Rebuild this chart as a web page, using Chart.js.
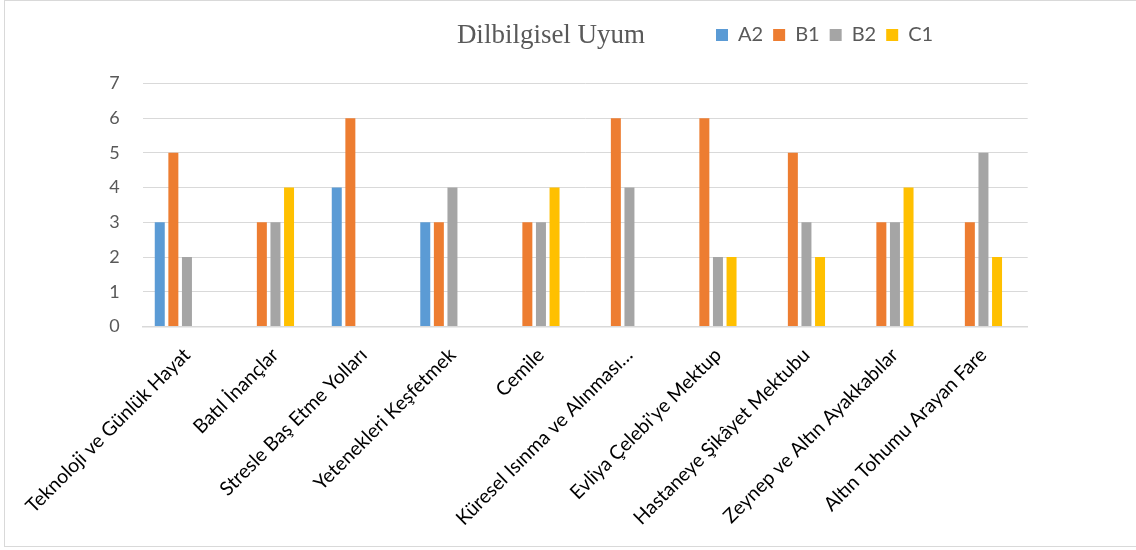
<!DOCTYPE html>
<html><head><meta charset="utf-8">
<script src="https://cdn.jsdelivr.net/npm/chart.js@4/dist/chart.umd.min.js"></script>
<style>
html,body{margin:0;padding:0;background:#fff;}
#wrap{position:relative;width:1136px;height:550px;overflow:hidden;}
#frame{position:absolute;left:4px;top:0;width:1150px;height:547px;border:1px solid #d9d9d9;box-sizing:border-box;pointer-events:none;}
canvas{position:absolute;left:0;top:0;}
</style></head><body>
<div id="wrap"><canvas id="c" width="1136" height="550"></canvas><div id="frame"></div></div>
<script>
const titleText = 'Dilbilgisel Uyum';
const categories = [
  'Teknoloji ve Günlük Hayat',
  'Batıl İnançlar',
  'Stresle Baş Etme Yolları',
  'Yetenekleri Keşfetmek',
  'Cemile',
  'Küresel Isınma ve Alınması…',
  "Evliya Çelebi'ye Mektup",
  'Hastaneye Şikâyet Mektubu',
  'Zeynep ve Altın Ayakkabılar',
  'Altın Tohumu Arayan Fare'
];
const seriesNames = ['A2', 'B1', 'B2', 'C1'];
const a2 = [3, 0, 4, 3, 0, 0, 0, 0, 0, 0];
const b1 = [5, 3, 6, 3, 3, 6, 6, 5, 3, 3];
const b2 = [2, 3, 0, 4, 3, 4, 2, 3, 3, 5];
const c1 = [0, 4, 0, 0, 4, 0, 2, 2, 4, 2];
const emptySlot = [null, null, null, null, null, null, null, null, null, null];
const yTicks = [0, 1, 2, 3, 4, 5, 6, 7];
const colors = ['#5B9BD5', '#ED7D31', '#A5A5A5', '#FFC000'];

const FONT = 'Lato, "Open Sans", sans-serif';
const TITLE_CX = 551;
const TITLE_TOP = 8.3;
const LEGEND_LEFT = 706;
const LEGEND_TOP = 15;

const placeHeader = {
  id: 'placeHeader',
  afterLayout(chart) {
    const t = chart.titleBlock;
    if (t) {
      const h = t.bottom - t.top, w = t.right - t.left;
      t.top = TITLE_TOP; t.bottom = TITLE_TOP + h;
      t.left = TITLE_CX - w / 2; t.right = t.left + w;
    }
    const l = chart.legend;
    if (l) {
      const h = l.bottom - l.top;
      l.top = LEGEND_TOP; l.bottom = LEGEND_TOP + h;
      l.left = LEGEND_LEFT; l.right = LEGEND_LEFT + 420; l.width = 420;
    }
  }
};

const seriesData = [a2, b1, b2, c1];
const datasets = seriesNames.map((n, i) => ({
  label: n, data: seriesData[i], backgroundColor: colors[i], borderWidth: 0
}));
datasets.push({ label: '', data: emptySlot, backgroundColor: 'rgba(0,0,0,0)', borderWidth: 0 });

new Chart(document.getElementById('c'), {
  type: 'bar',
  data: { labels: categories, datasets },
  plugins: [placeHeader],
  options: {
    responsive: false,
    animation: false,
    devicePixelRatio: 1,
    layout: { padding: { left: 0, right: 108.3, top: 0, bottom: 0 } },
    datasets: { bar: { categoryPercentage: 0.768, barPercentage: 0.735 } },
    plugins: {
      title: {
        display: true, text: titleText, color: '#595959',
        font: { family: '"Liberation Serif", "Times New Roman", serif', size: 27, weight: 'normal' },
        padding: { top: 11, bottom: 0 }
      },
      legend: {
        display: true, position: 'top', align: 'start',
        labels: {
          boxWidth: 12, boxHeight: 12, padding: 10, color: '#595959',
          font: { family: FONT, size: 20 },
          filter: (item) => item.text !== ''
        }
      },
      tooltip: { enabled: false }
    },
    scales: {
      x: {
        grid: { display: false, drawTicks: false },
        border: { display: true, color: '#d9d9d9', width: 1.5 },
        ticks: {
          autoSkip: false, minRotation: 45, maxRotation: 45, padding: 17,
          color: '#000000', font: { family: FONT, size: 19.5 }
        },
        afterFit: (s) => { s.height = 223.5; }
      },
      y: {
        min: yTicks[0], max: yTicks[yTicks.length - 1],
        afterBuildTicks: (s) => { s.ticks = yTicks.map(v => ({ value: v })); },
        grid: { color: '#d9d9d9', lineWidth: 1, drawTicks: false },
        border: { display: false },
        ticks: { padding: 23, color: '#595959', font: { family: FONT, size: 18 } },
        afterFit: (s) => { s.width = 142.7; }
      }
    }
  }
});
</script>
</body></html>
